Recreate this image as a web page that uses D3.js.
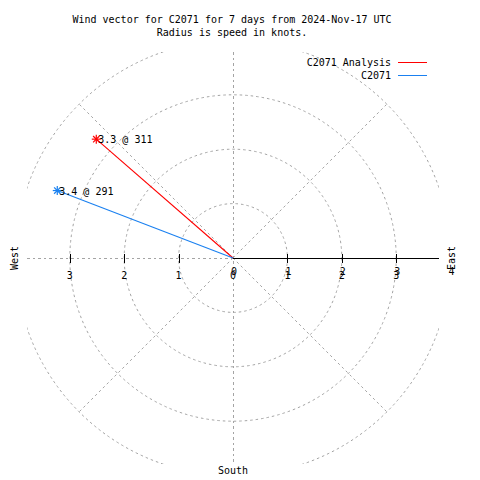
<!DOCTYPE html>
<html><head><meta charset="utf-8">
<script src="https://cdn.jsdelivr.net/npm/d3@7"></script>
<style>body{margin:0;background:#fff}text{font-family:"DejaVu Sans Mono",monospace;font-size:10px;fill:#000}</style>
</head><body><svg id="c" width="480" height="480"></svg>
<script>
const titleLines = ["Wind vector for C2071 for 7 days from 2024-Nov-17 UTC", "Radius is speed in knots."];
const seriesNames = ["C2071 Analysis", "C2071"];
const seriesColors = ["#ff0000", "#1a80f0"];
const speeds = [3.33, 3.46];
const directions = [311, 291];
const pointLabels = ["3.3 @ 311", "3.4 @ 291"];
const gridRadii = [1, 2, 3, 4];
const gridAngles = [45, 135, 225, 315];
const xTicks = [-3, -2, -1, 0, 1, 2, 3];
const rTicks = [0, 1, 2, 3, 4];
const compass = ["West", "East", "South"];

const svg = d3.select("#c");
const cx = 233, cy = 258;
const r = d3.scaleLinear().domain([0, 4]).range([0, 217.6]);
const half = 206;
const x = d3.scaleLinear().domain([-4, 4]).range([cx - r(4), cx + r(4)]);

svg.append("defs").append("clipPath").attr("id", "box").append("rect")
  .attr("x", cx - half).attr("y", cy - half).attr("width", 2 * half).attr("height", 2 * half);

const grid = svg.append("g").attr("clip-path", "url(#box)")
  .attr("fill", "none").attr("stroke", "#a4a4a4").attr("stroke-width", 1).attr("stroke-dasharray", "2.5,3");
grid.selectAll("circle").data(gridRadii).join("circle")
  .attr("cx", cx).attr("cy", cy).attr("r", d => r(d));
grid.selectAll("line.rad").data(gridAngles).join("line").attr("class", "rad")
  .attr("x1", cx).attr("y1", cy)
  .attr("x2", d => cx + r(4) * Math.cos(d * Math.PI / 180))
  .attr("y2", d => cy - r(4) * Math.sin(d * Math.PI / 180));
grid.append("line").attr("x1", cx + 0.5).attr("x2", cx + 0.5).attr("y1", cy - half).attr("y2", cy + half).attr("shape-rendering", "crispEdges");
grid.append("line").attr("x1", cx - half).attr("x2", cx).attr("y1", cy + 0.5).attr("y2", cy + 0.5).attr("shape-rendering", "crispEdges");

// solid r axis
svg.append("line").attr("x1", cx).attr("x2", cx + half).attr("y1", cy + 0.5).attr("y2", cy + 0.5)
  .attr("stroke", "#000").attr("stroke-width", 1).attr("shape-rendering", "crispEdges");
svg.selectAll("line.tick").data(xTicks.filter(d => d !== 0)).join("line").attr("class", "tick")
  .attr("x1", d => Math.round(x(d)) + 0.5).attr("x2", d => Math.round(x(d)) + 0.5)
  .attr("y1", cy - 4).attr("y2", cy + 5).attr("stroke", "#000").attr("shape-rendering", "crispEdges");

svg.selectAll("text.xt").data(xTicks).join("text").attr("class", "xt")
  .attr("x", d => x(d)).attr("y", 279).attr("text-anchor", "middle").text(d => Math.abs(d));
svg.selectAll("text.rt").data(rTicks).join("text").attr("class", "rt")
  .attr("x", d => x(d) + 1).attr("y", 275).attr("text-anchor", "middle").text(d => d);

// compass labels
svg.append("text").attr("transform", `translate(18,${cy}) rotate(-90)`).attr("text-anchor", "middle").text(compass[0]);
svg.append("text").attr("transform", `translate(455,${cy}) rotate(-90)`).attr("text-anchor", "middle").text(compass[1]);
svg.append("text").attr("x", cx).attr("y", 474).attr("text-anchor", "middle").text(compass[2]);

// title
svg.selectAll("text.title").data(titleLines).join("text").attr("class", "title")
  .attr("x", 232).attr("y", (d, i) => 23 + i * 13).attr("text-anchor", "middle").text(d => d);

// vectors
const pts = speeds.map((s, i) => {
  const a = (90 - directions[i]) * Math.PI / 180;
  return { x: cx + r(s) * Math.cos(a), y: cy - r(s) * Math.sin(a), c: seriesColors[i], l: pointLabels[i] };
});
svg.selectAll("line.vec").data(pts).join("line").attr("class", "vec")
  .attr("x1", cx).attr("y1", cy).attr("x2", d => d.x).attr("y2", d => d.y)
  .attr("stroke", d => d.c).attr("stroke-width", 1.1);
const sg = svg.selectAll("g.pt").data(pts).join("g").attr("class", "pt")
  .attr("transform", d => `translate(${d.x},${d.y})`);
sg.each(function (d) {
  const g = d3.select(this);
  [0, 45, 90, 135].forEach(a => {
    const t = a * Math.PI / 180;
    g.append("line").attr("x1", -4.5 * Math.cos(t)).attr("y1", -4.5 * Math.sin(t))
      .attr("x2", 4.5 * Math.cos(t)).attr("y2", 4.5 * Math.sin(t)).attr("stroke", d.c).attr("stroke-width", 1.2);
  });
});
svg.selectAll("text.pl").data(pts).join("text").attr("class", "pl")
  .attr("x", d => d.x + 2).attr("y", d => d.y + 4).text(d => d.l);

// legend
const lg = svg.selectAll("g.leg").data(seriesNames).join("g").attr("class", "leg")
  .attr("transform", (d, i) => `translate(0,${62 + i * 13})`);
lg.append("text").attr("x", 391).attr("y", 4).attr("text-anchor", "end").text(d => d);
lg.append("line").attr("x1", 398).attr("x2", 427).attr("y1", 0.5).attr("y2", 0.5)
  .attr("stroke", (d, i) => seriesColors[i]).attr("stroke-width", 1).attr("shape-rendering", "crispEdges");
</script></body></html>
